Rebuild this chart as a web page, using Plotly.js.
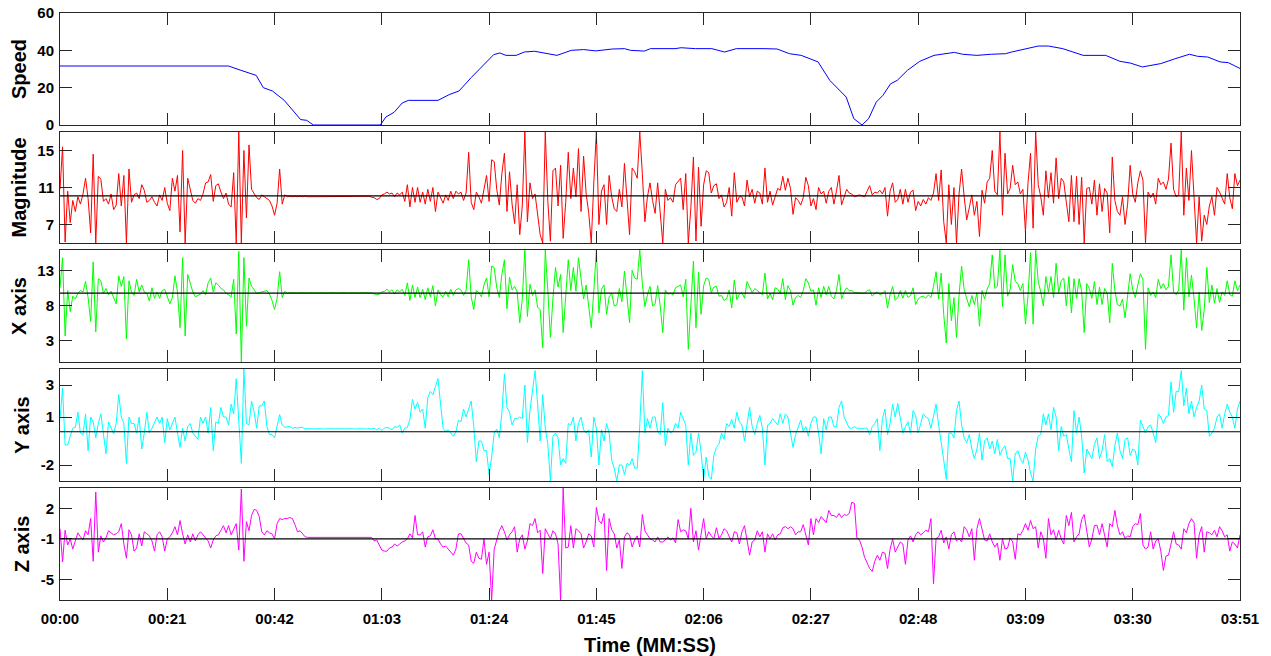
<!DOCTYPE html>
<html>
<head>
<meta charset="utf-8">
<script src="https://cdn.plot.ly/plotly-3.0.1.min.js"></script>
<style>html,body{margin:0;padding:0;background:#fff;}#chart{width:1271px;height:656px;}</style>
</head>
<body>
<div id="chart"></div>
<script>
// ---------------- DATA ----------------
// Sensor samples every 0.5 s from 0 s to 231 s (463 samples per series)
const sampleStep = 0.5;

// Speed: read as (time s, speed) points along the blue curve
const speedTime = [0,33.0,35.4,38.4,39.8,41.6,43.9,47.1,48.3,49.6,
  62.7,63.8,65.4,67.0,68.2,74.0,76.2,78.1,80.5,82.5,
  84.9,86.1,87.3,89.3,90.9,92.9,95.3,97.3,100.1,102.5,
  104.9,108.1,110.5,111.7,114.4,115.6,120.4,121.6,124.4,127.6,
  130.1,132.4,138.0,140.4,142.8,145.1,148.4,150.7,153.9,155.4,
  157.0,158.3,159.8,161.1,162.6,163.9,165.9,168.3,171.1,175.1,
  176.7,179.5,182.3,185.1,186.3,188.7,191.5,193.5,196.3,200.3,
  204.7,207.5,209.5,211.9,215.5,218.3,221.1,222.7,224.7,227.1,
  228.7,231];
const speedValues = [31.6,31.6,29.3,26.6,20.0,18.2,13.2,2.9,2.5,0,
  0,4.3,6.8,11.8,13.2,13.2,16.3,18.2,25.4,31.1,
  37.7,38.6,37.3,37.3,39.1,39.5,38.2,37.3,40.0,40.4,
  39.7,40.7,40.9,40.0,39.6,40.9,40.9,41.4,40.9,40.9,
  39.1,40.9,40.9,40.7,38.2,37.3,33.8,23.9,15.0,3.4,
  0,3.4,12.3,15.9,22.1,23.9,29.3,34.1,37.3,38.9,
  37.9,37.3,37.9,38.2,39.1,40.7,42.3,42.3,40.9,37.3,
  37.3,34.1,33.2,31.1,32.9,35.5,37.9,36.8,36.4,33.8,
  33.4,30.3];

const magnitude = [
  10.8,15.4,5.1,10.6,7.2,9.6,8.4,10.0,9.2,10.3,
  12.0,9.8,6.1,14.6,5.0,12.2,11.9,9.5,9.8,9.2,
  10.3,8.6,9.1,12.5,9.0,12.3,5.0,13.0,9.4,10.2,
  10.4,9.8,11.3,10.7,9.4,9.6,10.0,9.4,9.0,10.2,
  9.6,11.0,9.3,8.5,12.0,10.6,12.3,6.2,15.0,5.0,
  12.0,10.8,9.6,9.3,9.8,9.6,10.3,11.5,11.6,12.4,
  9.5,11.2,11.4,10.5,9.8,10.4,9.2,8.9,12.6,5.0,
  17.0,5.0,15.0,7.7,15.6,10.8,10.4,9.9,9.7,10.2,
  10.0,9.8,9.6,9.0,8.0,9.3,13.0,9.2,10.2,10.0,
  10.05,10.0,10.05,10.0,10.05,10.0,10.05,10.0,10.0,10.05,
  10.0,10.05,10.0,10.0,10.05,10.0,10.05,10.0,10.0,10.05,
  10.0,10.05,10.0,10.0,10.05,10.0,10.05,10.0,10.0,10.05,
  10.0,10.05,9.95,9.9,9.7,9.8,10.2,10.3,10.5,10.3,
  10.4,10.0,10.4,10.2,10.5,9.5,11.3,8.9,11.0,9.4,
  11.0,9.4,10.5,9.2,10.8,9.5,11.0,8.4,10.5,9.9,
  9.3,10.2,9.6,10.6,9.8,10.6,10.3,10.5,9.6,10.4,
  14.8,9.4,8.6,10.5,10.0,9.3,10.8,12.3,9.5,14.0,
  13.8,10.8,9.1,12.5,14.7,8.4,12.7,9.2,7.1,11.3,
  5.9,9.0,17.0,7.3,11.5,9.8,10.3,8.0,5.9,5.0,
  17.0,9.5,5.2,12.8,13.1,9.0,13.4,5.5,9.4,14.8,
  9.8,13.1,10.0,15.2,8.4,14.4,10.3,8.3,5.0,11.5,
  17.0,7.0,10.6,11.3,7.0,12.3,10.0,8.7,8.4,10.8,
  8.9,13.6,9.8,5.9,13.1,12.7,12.0,17.0,12.5,7.3,
  10.0,11.5,9.6,8.2,11.5,7.8,5.0,10.8,9.6,9.9,
  9.4,11.3,11.7,12.0,8.6,12.5,5.0,8.8,14.3,5.2,
  13.2,6.8,11.3,12.8,12.6,10.4,11.2,11.4,9.8,10.2,
  8.9,9.4,11.0,7.9,12.6,9.4,10.0,10.0,9.0,11.8,
  10.0,10.8,9.3,10.6,10.4,9.2,13.1,9.4,10.6,9.1,
  10.0,10.9,10.7,12.2,10.7,12.0,10.9,8.1,9.9,9.6,
  9.1,9.9,12.1,11.2,9.0,9.8,8.6,11.0,10.3,10.6,
  9.3,10.6,11.0,9.2,10.6,12.3,9.1,10.0,10.8,10.4,
  10.3,10.0,10.1,10.2,10.1,10.0,10.6,11.2,10.2,10.5,
  10.4,10.7,10.3,11.0,7.9,10.6,11.5,9.4,9.7,10.8,
  9.2,10.8,9.4,10.5,10.7,8.5,9.5,9.0,9.7,9.2,
  9.9,9.6,10.4,12.5,9.6,12.9,7.3,5.0,11.3,7.0,
  11.0,5.0,10.3,13.0,10.0,7.5,8.8,10.2,8.0,9.5,
  5.7,10.7,9.3,11.6,12.0,15.0,10.6,10.2,17.0,8.0,
  14.7,10.3,10.9,13.4,11.3,11.6,10.3,10.8,6.2,11.5,
  14.7,6.6,17.0,11.3,10.0,8.0,12.8,9.9,12.6,9.3,
  14.2,9.8,12.0,11.6,9.4,7.3,12.3,7.3,12.2,7.0,
  12.1,5.0,10.9,11.0,9.2,11.8,8.0,11.4,8.4,10.9,
  10.4,6.1,14.3,9.6,8.4,8.0,10.0,7.0,9.2,13.4,
  10.3,9.4,11.5,12.8,11.8,5.0,10.5,9.9,10.4,9.2,
  12.0,11.3,11.6,10.8,11.9,15.8,10.8,10.0,10.2,17.0,
  8.0,13.1,9.6,15.0,10.0,5.0,10.0,5.2,8.0,7.0,
  9.0,10.0,8.0,11.0,10.5,9.8,9.2,12.5,9.9,8.7,
  12.5,11.2,11.8];

const xAxisAcc = [
  10.6,14.9,3.7,10.2,7.2,9.4,9.0,9.8,10.2,10.0,
  11.5,9.2,5.8,14.3,4.3,11.9,11.6,9.8,10.5,9.6,
  10.1,9.2,8.3,12.3,10.8,12.2,3.3,11.6,10.0,9.5,
  11.8,10.0,11.0,10.0,9.8,8.7,10.6,9.1,10.0,9.1,
  10.2,10.4,9.2,8.3,9.2,12.3,10.0,4.9,14.9,3.7,
  12.5,11.3,10.0,9.3,9.5,9.7,10.2,9.6,11.3,12.0,
  10.0,11.3,11.0,10.5,10.3,9.8,9.6,9.3,11.8,4.0,
  15.8,0.0,14.9,5.1,12.0,10.8,10.3,9.8,9.9,10.0,
  10.1,10.2,9.7,8.8,7.5,9.1,12.9,9.2,10.1,9.8,
  9.9,9.85,9.9,9.85,9.9,9.85,9.9,9.85,9.9,9.85,
  9.9,9.85,9.9,9.85,9.9,9.85,9.9,9.85,9.9,9.85,
  9.9,9.85,9.9,9.85,9.9,9.85,9.9,9.85,9.9,9.85,
  9.9,9.85,9.9,9.8,9.6,9.7,10.0,10.1,10.4,10.0,
  10.3,9.7,10.3,10.0,10.4,9.5,11.3,8.8,11.0,9.2,
  10.7,9.2,10.4,8.9,10.6,9.3,10.9,8.0,10.3,9.6,
  9.3,10.1,9.3,10.4,9.5,10.3,10.5,10.3,9.5,10.2,
  14.6,9.3,7.5,10.2,9.9,9.3,11.0,12.0,9.3,13.7,
  13.5,10.6,9.2,12.5,14.6,7.6,12.1,10.3,10.8,10.0,
  5.6,9.0,16.0,6.5,11.1,9.5,10.3,7.8,7.5,2.0,
  16.0,10.2,3.5,9.1,13.5,10.7,12.5,4.2,9.3,14.6,
  10.2,13.5,10.1,14.9,11.9,9.0,11.0,8.1,4.9,10.2,
  16.0,7.0,10.4,11.0,6.8,9.3,9.8,8.0,8.1,10.5,
  8.6,13.0,9.4,5.6,13.1,12.0,11.8,16.0,11.2,7.9,
  9.6,10.8,8.0,8.3,10.9,8.0,4.2,10.3,9.7,9.8,
  9.6,10.6,10.8,11.0,9.3,11.8,1.8,8.8,14.4,4.9,
  12.8,6.8,10.9,12.0,11.8,9.9,10.7,10.8,9.4,9.5,
  8.8,9.0,10.3,7.7,11.7,8.9,9.7,9.9,9.1,11.5,
  10.8,9.9,10.5,10.2,10.0,9.6,12.7,9.0,9.8,8.9,
  10.6,10.4,9.8,11.9,8.9,10.9,10.2,8.1,9.2,9.5,
  9.2,10.2,11.9,11.3,10.1,10.3,8.1,10.6,9.2,10.8,
  9.6,10.8,9.4,9.0,10.2,12.5,9.0,10.0,10.6,10.2,
  10.2,9.9,9.9,9.9,9.9,9.8,10.2,10.3,9.4,9.8,
  10.0,9.6,9.8,10.2,7.7,9.6,10.8,8.8,9.2,10.2,
  9.1,10.2,9.2,9.5,10.6,8.2,9.0,9.3,9.4,9.1,
  9.6,9.2,10.8,12.9,9.0,12.7,6.8,2.7,11.2,5.9,
  9.2,3.5,9.6,13.7,10.3,8.9,7.9,9.5,8.2,9.9,
  5.1,10.2,9.0,10.4,11.2,15.3,10.5,10.8,16.0,7.9,
  15.3,9.4,10.3,13.9,11.5,11.2,10.2,11.2,5.4,9.5,
  15.6,5.4,16.0,11.5,10.0,8.0,12.2,10.0,12.2,9.2,
  14.1,9.9,11.6,12.0,8.0,12.2,7.0,11.9,9.1,11.9,
  10.1,4.2,11.2,10.5,9.1,11.5,8.2,10.7,8.2,10.5,
  9.8,5.6,14.1,10.2,8.2,8.0,9.0,6.3,9.5,12.6,
  10.3,9.2,11.0,12.6,11.8,1.8,10.6,9.5,10.0,9.2,
  11.8,10.5,11.2,10.3,10.8,15.3,10.0,9.6,10.3,16.0,
  7.4,14.9,9.3,12.4,9.1,4.9,10.0,4.5,7.5,13.5,
  8.5,11.0,8.4,10.5,8.5,10.0,9.5,11.6,9.6,9.4,
  11.6,10.2,11.0];

const yAxisAcc = [
  0.9,2.8,-0.75,-0.75,-0.2,0.3,0.35,1.3,0.0,-0.1,
  1.2,-1.1,1.0,0.7,-0.3,0.6,1.2,0.0,-1.3,0.7,
  0.3,-0.05,0.6,2.4,1.0,0.6,-1.9,1.0,0.6,0.6,
  0.0,1.0,-1.0,0.0,1.3,0.0,0.3,0.7,1.0,0.6,
  1.0,-0.6,0.9,0.2,0.6,1.0,0.0,-0.9,0.3,-0.5,
  0.4,0.6,0.0,-0.2,-0.4,1.0,0.6,1.0,0.0,1.6,
  -1.1,0.7,0.6,1.6,1.0,1.0,0.5,1.8,1.2,3.4,
  0.8,-1.9,4.0,0.6,0.5,2.0,1.3,0.3,1.7,1.7,
  2.0,0.4,-0.1,-0.1,-0.3,0.4,1.15,0.5,0.35,0.4,
  0.4,0.3,0.35,0.3,0.35,0.35,0.25,0.27,0.25,0.27,
  0.25,0.27,0.25,0.27,0.25,0.27,0.25,0.27,0.25,0.27,
  0.25,0.27,0.25,0.27,0.25,0.27,0.25,0.27,0.25,0.27,
  0.25,0.27,0.25,0.3,0.2,0.3,0.15,0.3,0.35,0.3,
  0.2,0.4,0.35,0.5,0.0,0.3,0.35,0.85,2.1,1.5,
  1.9,1.3,1.5,0.3,2.2,2.6,2.4,2.9,3.4,1.8,
  0.3,0.1,0.2,0.0,-0.2,0.05,0.8,0.7,1.5,1.0,
  1.5,2.0,0.4,-1.8,-0.5,-0.5,-1.1,-1.1,-2.6,-1.5,
  0.0,0.25,-0.3,1.25,3.7,1.6,1.3,0.5,0.9,0.9,
  1.0,0.9,3.0,-0.6,1.4,2.6,3.9,1.8,-0.5,2.4,
  0.3,-0.7,-3.0,-0.2,0.0,-0.3,-2.0,-1.6,-1.9,0.6,
  0.5,1.0,-0.5,0.6,1.0,0.2,0.0,0.2,-1.5,1.0,
  0.3,-2.0,0.2,-0.5,0.6,0.0,-1.7,-2.2,-3.0,-2.0,
  -2.0,-2.6,-1.9,-2.0,-1.6,-2.2,-2.2,0.5,3.9,0.0,
  0.9,0.3,1.0,1.0,0.1,-0.1,1.9,-0.8,0.3,0.0,
  0.1,0.6,0.3,1.3,0.9,0.5,-2.0,0.0,-1.4,-1.2,
  0.0,-1.2,-2.9,-1.5,-2.7,-2.9,-1.4,-0.9,-0.7,0.0,
  -0.4,0.6,0.4,0.85,0.3,1.3,0.7,0.5,-0.5,0.5,
  1.6,0.4,-0.1,0.6,1.1,0.3,-2.0,0.5,0.6,0.9,
  0.7,0.5,1.2,0.6,1.2,1.0,0.0,-0.9,-0.1,0.4,
  0.8,0.1,0.4,-0.2,0.6,1.0,1.0,0.0,-1.3,0.9,
  0.2,1.0,1.0,0.4,0.4,1.6,2.0,1.0,0.6,0.3,
  0.3,0.4,0.3,0.3,0.25,0.3,0.3,-0.1,0.4,0.6,
  0.9,-1.1,0.9,1.5,-0.1,0.6,1.8,1.0,1.85,1.0,
  0.0,0.4,0.7,0.0,1.4,1.1,0.0,0.6,1.2,1.0,
  0.9,0.3,1.0,1.8,0.5,-0.5,-1.7,-2.9,0.0,0.0,
  -0.3,1.4,2.0,0.5,-0.3,-0.6,-0.1,-1.0,-1.6,-1.0,
  0.0,-1.7,-0.5,-0.3,-1.0,-0.5,-1.3,-0.4,-1.4,-1.0,
  -0.8,-1.6,-1.6,-3.0,-1.3,-1.1,-1.6,-1.9,-1.2,-1.7,
  -2.5,-3.0,-1.0,-0.2,-0.1,1.2,0.5,1.2,0.2,1.6,
  1.0,-1.1,0.4,-0.2,-0.1,-1.0,-1.8,1.4,0.0,1.0,
  -0.2,-2.5,-1.0,-1.3,-1.6,-0.7,-0.3,-1.6,-1.1,-0.1,
  -1.8,-1.6,-2.1,-0.8,0.0,-1.1,-1.6,-0.4,-0.3,-1.4,
  -1.0,-1.1,-2.0,0.8,0.4,0.0,0.4,0.5,0.0,-0.6,
  1.2,1.0,0.6,1.0,1.1,3.2,1.3,2.6,2.6,3.9,
  1.7,2.8,1.2,2.0,1.0,1.6,2.0,3.0,1.5,1.4,
  -0.2,0.0,0.3,1.0,1.2,0.3,1.2,1.8,1.3,1.0,
  0.3,1.5,2.0];

const zAxisAcc = [
  0.0,-3.25,-0.15,-1.6,-1.0,-2.0,-1.2,-0.4,-0.8,-1.1,
  -0.2,-0.6,1.0,-3.2,3.6,-2.3,-0.7,-1.3,-0.9,-0.2,
  -0.4,-0.6,-0.5,-0.3,0.5,-1.5,-2.9,-0.1,-0.6,-2.2,
  -1.9,-0.5,-1.7,-0.3,-0.5,-0.7,-1.2,-2.2,-0.6,-0.3,
  -0.8,-2.2,-1.0,-0.8,-0.4,0.2,-0.6,0.8,-0.5,-1.5,
  -0.6,-1.3,-0.5,-1.2,-0.6,-0.3,-0.6,-0.9,-1.2,-1.9,
  -1.1,-0.7,-0.6,-0.15,0.3,-0.4,0.3,-0.6,-0.1,0.5,
  -2.1,3.9,-3.2,0.7,-0.2,1.3,1.9,1.8,1.2,-0.3,
  -0.6,-0.2,-0.4,-0.5,-1.0,0.5,1.0,0.9,1.0,1.0,
  1.1,1.0,0.4,-0.3,-0.2,-0.5,-0.8,-0.85,-0.85,-0.85,
  -0.85,-0.85,-0.85,-0.85,-0.85,-0.85,-0.85,-0.85,-0.85,-0.85,
  -0.85,-0.85,-0.85,-0.85,-0.85,-0.85,-0.85,-0.85,-0.85,-0.85,
  -0.85,-0.85,-0.85,-1.2,-1.1,-1.6,-2.1,-2.2,-2.2,-1.9,
  -1.8,-1.5,-1.7,-1.5,-1.3,-1.2,-1.0,-0.5,-0.9,1.3,
  -0.6,-0.6,-0.3,-1.8,-0.8,-0.7,-0.1,-1.0,-1.0,-1.5,
  -1.8,-1.7,-2.0,-2.4,-2.6,-2.0,-0.5,-0.5,-0.97,-1.4,
  -1.6,-3.2,-3.4,-2.3,-2.9,-3.0,-1.0,-3.5,-2.3,-7.0,
  -2.0,-0.97,-0.2,0.3,-0.3,-1.1,-0.6,-0.3,0.2,-2.3,
  -1.0,-0.6,-2.0,-1.2,0.5,0.3,1.0,-0.4,-0.15,-4.4,
  0.0,-0.5,-1.0,-0.2,-0.5,-1.5,-7.0,4.0,-1.9,-1.8,
  0.3,-1.9,0.0,-0.2,-0.5,-1.9,-1.3,-0.5,-0.7,-1.8,
  2.1,0.8,0.5,1.5,-4.1,1.0,-0.1,-0.5,-1.9,-1.1,
  -3.9,-0.8,-0.4,-0.6,-1.8,-1.1,-0.7,-1.8,1.4,-0.2,
  -0.6,-1.0,-1.1,-1.3,-0.8,-1.3,-1.3,-1.1,-0.8,-1.1,
  -0.9,-1.4,0.9,-0.3,-0.1,-0.2,-1.0,2.0,-1.3,-0.2,
  -2.1,-0.7,1.0,-1.0,-0.3,-0.7,-0.97,0.1,-0.97,-0.6,
  0.0,-0.2,-0.8,-1.3,-0.3,-0.4,-1.5,-0.3,0.3,-1.1,
  -2.6,-1.3,-1.1,-0.2,-0.8,-0.3,-2.3,-0.5,-1.0,-0.5,
  -1.1,-0.6,-0.5,0.1,0.2,0.0,0.2,0.0,-0.6,-0.3,
  -0.3,0.4,-0.7,-1.6,1.0,-0.6,1.0,0.6,1.2,0.9,
  0.6,1.8,1.3,1.3,1.1,1.5,1.1,1.4,1.3,1.5,
  2.6,2.5,-0.9,-1.1,-1.8,-2.8,-3.4,-3.9,-4.2,-3.2,
  -2.6,-3.1,-2.3,-2.4,-3.9,-2.0,-1.0,-2.3,-1.8,-1.3,
  -1.5,-3.5,-1.1,-0.7,-1.3,-0.6,-0.3,-0.6,-0.4,-0.15,
  -0.3,1.0,-5.4,-0.97,-0.8,-0.15,-1.4,-0.8,-2.0,-0.6,
  -0.3,-1.2,-0.97,-1.3,0.2,-0.1,-0.8,0.0,-3.1,0.0,
  1.0,-0.2,-1.1,-1.2,-0.5,-1.3,-1.8,-1.4,-3.1,-0.97,
  -2.0,-1.9,-0.9,-1.3,-3.0,-0.5,-0.6,-0.15,0.5,-0.15,
  0.8,0.0,0.2,-1.9,-0.3,-0.97,-2.9,1.0,-0.6,-0.1,
  -1.1,-0.15,-1.0,-1.5,1.3,0.3,1.6,-1.3,-0.8,-0.5,
  0.9,1.4,0.0,-1.8,-1.0,0.3,0.34,-0.6,0.5,-0.8,
  -1.8,0.5,0.2,1.8,0.3,-0.6,-0.3,-0.97,-0.7,-0.8,
  0.2,0.5,0.4,1.5,-1.6,-2.0,-1.8,-0.3,-2.0,-1.2,
  -1.0,-2.2,-4.1,-2.7,-2.6,-1.5,-0.3,-1.5,-1.6,-2.0,
  0.0,-0.4,0.5,1.0,0.6,-2.9,-0.6,0.2,-2.3,-0.3,
  -0.4,-0.6,-0.15,-0.8,0.2,-0.2,-0.8,-0.6,-2.2,-1.3,
  -1.5,-1.9,-0.6];

// Horizontal black reference level drawn in each sensor panel
const refMagnitude = 10.1, refX = 9.84, refY = 0.08, refZ = -1;

// Axis ticks
const timeTicks = [0,21,42,63,84,105,126,147,168,189,210,231];
const timeTickLabels = ["00:00","00:21","00:42","01:03","01:24","01:45","02:06","02:27","02:48","03:09","03:30","03:51"];
const speedTicks = [0,20,40,60], speedTickLabels = ["0","20","40","60"];
const magTicks = [7,11,15], magTickLabels = ["7","11","15"];
const xTicks = [3,8,13], xTickLabels = ["3","8","13"];
const yTicks = [-2,1,3], yTickLabels = ["-2","1","3"];
const zTicks = [-5,-1,2], zTickLabels = ["-5","-1","2"];

// ---------------- CHART ----------------
const time = magnitude.map((_, i) => i * sampleStep);
const FONT = 'Liberation Sans, Arial, Helvetica, sans-serif';
const AX = '#262626';

const traces = [
  {x: speedTime, y: speedValues, xaxis:'x', yaxis:'y', mode:'lines', line:{color:'#0000FF', width:1}},
  {x: time, y: magnitude, xaxis:'x2', yaxis:'y2', mode:'lines', line:{color:'#FF0000', width:1}},
  {x: time, y: xAxisAcc, xaxis:'x3', yaxis:'y3', mode:'lines', line:{color:'#00FF00', width:1}},
  {x: time, y: yAxisAcc, xaxis:'x4', yaxis:'y4', mode:'lines', line:{color:'#00FFFF', width:1}},
  {x: time, y: zAxisAcc, xaxis:'x5', yaxis:'y5', mode:'lines', line:{color:'#FF00FF', width:1}}
];
traces.forEach(t => { t.hoverinfo = 'skip'; t.showlegend = false; });

function xAxis(k, showLabels) {
  const a = {
    domain:[0,1], anchor:'y'+(k===1?'':k), range:[0,231],
    tickmode:'array', tickvals: timeTicks, ticktext: timeTickLabels,
    showticklabels: showLabels, ticks:'inside', ticklen:12, tickwidth:1, tickcolor:AX,
    showline:true, linecolor:AX, linewidth:1, mirror:'ticks',
    showgrid:false, zeroline:false, fixedrange:true,
    tickfont:{family:FONT, size:15, color:'#000', weight:'bold'},
    ticklabelstandoff: 5
  };
  if (showLabels) a.title = {text:'Time (MM:SS)', font:{family:FONT, size:20, color:'#000', weight:'bold'}, standoff: 14};
  return a;
}
function yAxis(k, domain, range, tv, tt, title) {
  return {
    domain: domain, anchor:'x'+(k===1?'':k), range: range,
    tickmode:'array', tickvals: tv, ticktext: tt,
    ticks:'inside', ticklen:12, tickwidth:1, tickcolor:AX,
    showline:true, linecolor:AX, linewidth:1, mirror:'ticks',
    showgrid:false, zeroline:false, fixedrange:true,
    tickfont:{family:FONT, size:15, color:'#000', weight:'bold'},
    ticklabelstandoff: 2,
    title:{text:title, font:{family:FONT, size:20, color:'#000', weight:'bold'}, standoff: 5}
  };
}

const refShape = (k, v) => ({type:'line', xref:'x'+k, yref:'y'+k, x0:0, x1:231, y0:v, y1:v,
  line:{color:'#000', width:1.2}, layer:'above'});

const layout = {
  width:1271, height:656,
  margin:{l:60, r:31, t:13, b:56},
  paper_bgcolor:'#fff', plot_bgcolor:'#fff',
  showlegend:false,
  font:{family:FONT, size:15, color:'#000'},
  xaxis: xAxis(1,false), xaxis2: xAxis(2,false), xaxis3: xAxis(3,false), xaxis4: xAxis(4,false), xaxis5: xAxis(5,true),
  yaxis:  yAxis(1,[0.8092,1.0],[0,60], speedTicks, speedTickLabels, 'Speed'),
  yaxis2: yAxis(2,[0.6082,0.7973],[5,17], magTicks, magTickLabels, 'Magnitude'),
  yaxis3: yAxis(3,[0.4055,0.5963],[0,16], xTicks, xTickLabels, 'X axis'),
  yaxis4: yAxis(4,[0.2027,0.3935],[-3,4], yTicks, yTickLabels, 'Y axis'),
  yaxis5: yAxis(5,[0,0.1908],[-7,4], zTicks, zTickLabels, 'Z axis'),
  shapes:[refShape(2,refMagnitude), refShape(3,refX), refShape(4,refY), refShape(5,refZ)]
};

Plotly.newPlot('chart', traces, layout, {staticPlot:true, displayModeBar:false});
</script>
</body>
</html>
